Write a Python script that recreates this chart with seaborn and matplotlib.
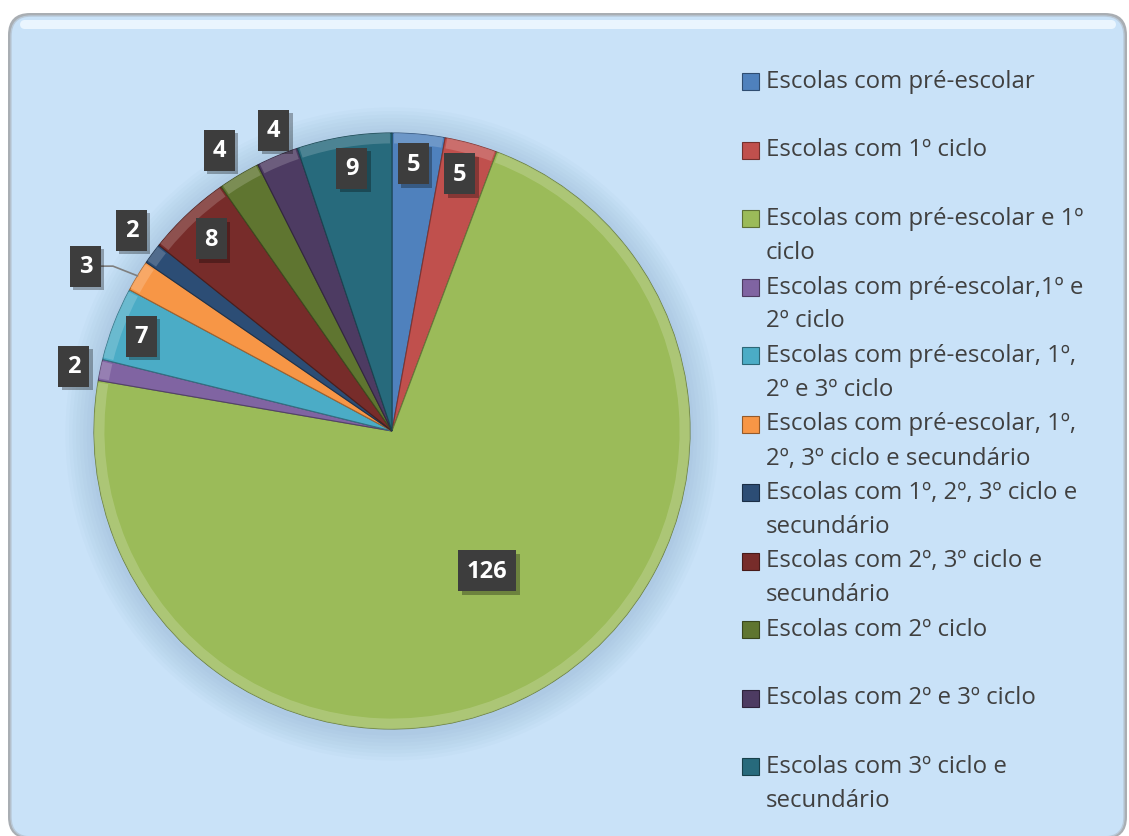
import textwrap
import numpy as np
import matplotlib
matplotlib.use("Agg")
import matplotlib.pyplot as plt
import matplotlib.patheffects as pe
import seaborn as sns
from matplotlib.patches import FancyBboxPatch, Rectangle, Circle, Wedge

# ---------------- data ----------------
categories = [
    "Escolas com pré-escolar",
    "Escolas com 1º ciclo",
    "Escolas com pré-escolar e 1º ciclo",
    "Escolas com pré-escolar,1º e 2º ciclo",
    "Escolas com pré-escolar, 1º, 2º e 3º ciclo",
    "Escolas com pré-escolar, 1º, 2º, 3º ciclo e secundário",
    "Escolas com 1º, 2º, 3º ciclo e secundário",
    "Escolas com 2º, 3º ciclo e secundário",
    "Escolas com 2º ciclo",
    "Escolas com 2º e 3º ciclo",
    "Escolas com 3º ciclo e secundário",
]
values = [5, 5, 126, 2, 7, 3, 2, 8, 4, 4, 9]
colors = ["#4f81bd", "#c0504d", "#9bbb59", "#8064a2", "#4bacc6", "#f79646",
          "#2c4d75", "#772c2a", "#5f7530", "#4d3b62", "#276a7c"]

# label layout (radial factor, angle offset in degrees clockwise)
label_r = [0.899, 0.892, 0.568, 1.090, 0.899, 1.168, 1.104, 0.886, 1.106, 1.085, 0.892]
label_da = [-0.6, -0.7, -4.4, -0.3, -0.4, -3.1, 1.1, 0.0, -0.7, 1.2, 0.5]

# ---------------- figure ----------------
sns.set_theme(style="white")
plt.rcParams['font.family'] = ['Open Sans', 'DejaVu Sans']

W, H = 1129, 837
fig = plt.figure(figsize=(W / 100, H / 100), dpi=100)
fig.patch.set_facecolor("white")
pt = fig.dpi_scale_trans  # inches


def X(px):
    return px / 100.0


def Y(py):
    return (H - py) / 100.0


# background panel (rounded)
shadow = FancyBboxPatch((X(8), Y(840)), X(1127) - X(8), Y(14) - Y(840),
                        boxstyle="round,pad=0,rounding_size=0.22",
                        transform=pt, fc="#a9aeb3", ec="none", zorder=0)
fig.patches.append(shadow)
panel = FancyBboxPatch((X(11), Y(838)), X(1124) - X(11), Y(17) - Y(838),
                       boxstyle="round,pad=0,rounding_size=0.2",
                       transform=pt, fc="#c9e2f8", ec="#b9c9d8", lw=1.0, zorder=1)
fig.patches.append(panel)
hl = FancyBboxPatch((X(20), Y(30)), X(1116) - X(20), Y(21) - Y(30),
                    boxstyle="round,pad=0,rounding_size=0.05",
                    transform=pt, fc="#eef8ff", ec="none", alpha=0.9, zorder=2)
fig.patches.append(hl)

# ---------------- pie ----------------
R = 298.0
cx, cy = 392, 432
half = 350.0
ax = fig.add_axes([(cx - half) / W, (H - cy - half) / H, 2 * half / W, 2 * half / H])
ax.set_zorder(10)
ax.axis("off")
ax.patch.set_alpha(0)

# soft shadow around the pie
for k in range(8):
    ax.add_patch(Circle((0.0, -0.01), 1.0 + 0.012 * (k + 1), fc="#5f86ad",
                        ec="none", alpha=0.03, zorder=0))

wedges, _ = ax.pie(values, colors=colors, startangle=90, counterclock=False,
                   radius=1.0, wedgeprops=dict(linewidth=0.8))
ax.set_xlim(-half / R, half / R)
ax.set_ylim(-half / R, half / R)
ax.set_aspect("equal")

for w, c in zip(wedges, colors):
    rgb = np.array(matplotlib.colors.to_rgb(c))
    w.set_edgecolor(tuple(rgb * 0.65))
    w.set_zorder(2)

# bevel-like highlight ring
for w, c in zip(wedges, colors):
    rgb = np.array(matplotlib.colors.to_rgb(c))
    light = tuple(np.clip(rgb + (1 - rgb) * 0.25, 0, 1))
    ax.add_patch(Wedge((0, 0), 1.0, w.theta1 + 0.4, w.theta2 - 0.4,
                       width=0.035, fc=light, ec="none", alpha=0.7, zorder=3))

# data labels (dark boxes)
for i, (w, v) in enumerate(zip(wedges, values)):
    mid = (w.theta1 + w.theta2) / 2.0 - label_da[i]
    rr = label_r[i]
    x, y = rr * np.cos(np.radians(mid)), rr * np.sin(np.radians(mid))
    s = str(v)
    bw = (17.5 + 13.5 * len(s)) / R
    bh = 41.0 / R
    box = Rectangle((x - bw / 2, y - bh / 2), bw, bh, fc="#3d3d3d", ec="none", zorder=6)
    box.set_path_effects([
        pe.SimplePatchShadow(offset=(2.5, -2.5), shadow_rgbFace="#000000", alpha=0.3),
        pe.Normal()])
    ax.add_patch(box)
    ax.text(x, y, s, ha="center", va="center", fontsize=17,
            fontweight="bold", color="white", zorder=7)
    if i == 5:
        e_ang = (w.theta1 + w.theta2) / 2.0
        ex, ey = np.cos(np.radians(e_ang)), np.sin(np.radians(e_ang))
        x0 = x + bw / 2
        ax.plot([x0, x0 + 12 / R, ex], [y, y, ey], color="#7f7f7f", lw=1.2, zorder=4)

# ---------------- legend ----------------
leg_top = 82
leg_step = 68.5
line_h = 34
for i, (cat, c) in enumerate(zip(categories, colors)):
    yy = leg_top + leg_step * i
    rgb = np.array(matplotlib.colors.to_rgb(c))
    fig.patches.append(Rectangle((X(742), Y(yy + 9)), X(759) - X(742), Y(yy - 8) - Y(yy + 9),
                                 transform=pt, fc=c, ec=tuple(rgb * 0.6), lw=0.8, zorder=5))
    lines = textwrap.wrap(cat, width=30)
    for j, ln in enumerate(lines):
        fig.text(766 / W, 1 - (yy + line_h * j) / H, ln, ha="left", va="center",
                 fontsize=17.3, color="#404040", zorder=6)

fig.savefig("out.png", dpi=100, facecolor="white")
